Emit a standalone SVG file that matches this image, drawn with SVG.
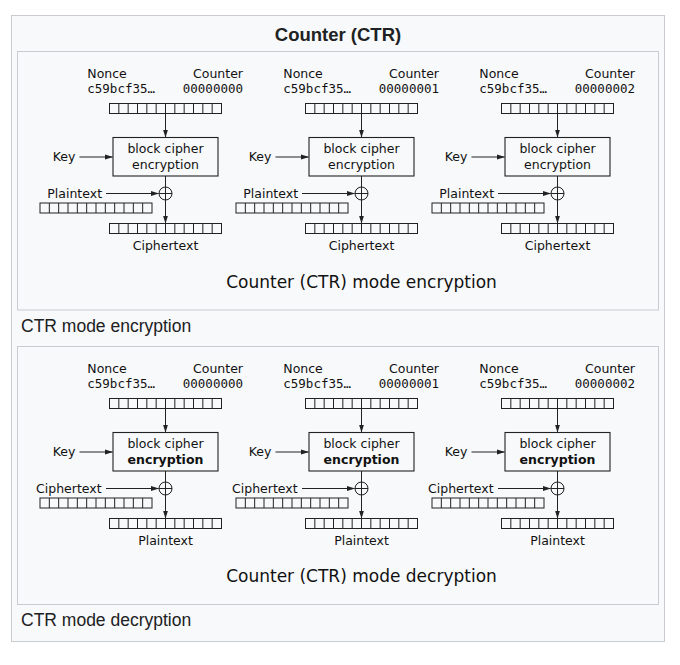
<svg xmlns="http://www.w3.org/2000/svg" xmlns:xlink="http://www.w3.org/1999/xlink" width="680" height="665" viewBox="0 0 680 665">
<style>
.frame{fill:#f8f9fa;stroke:#c8ccd1;stroke-width:1}
.cap{font-family:"Liberation Sans",Arial,sans-serif;font-size:17.5px;fill:#202122}
.title{font-family:"Liberation Sans",Arial,sans-serif;font-size:18.5px;font-weight:bold;fill:#202122}
.t{font-family:"DejaVu Sans",sans-serif;font-size:12.5px;fill:#111}
.m{font-family:"DejaVu Sans Mono",monospace;font-size:12.5px;fill:#111}
.big{font-family:"DejaVu Sans",sans-serif;font-size:17px;fill:#111}
.mid{text-anchor:middle}
.end{text-anchor:end}
.b{font-weight:bold}
.ln{fill:none;stroke:#222;stroke-width:1}
.box{fill:none;stroke:#222;stroke-width:1.1}
</style>
<defs>
<marker id="ah" markerWidth="8" markerHeight="6" refX="7.5" refY="3" orient="auto" markerUnits="userSpaceOnUse"><path d="M0,0.5 L8,3 L0,5.5 z" fill="#222"/></marker>
<g id="reg" class="ln"><rect x="0" y="0" width="112" height="10"/><path d="M9.33 0v10M18.67 0v10M28 0v10M37.33 0v10M46.67 0v10M56 0v10M65.33 0v10M74.67 0v10M84 0v10M93.33 0v10M102.67 0v10"/></g>
<g id="xor" class="ln"><circle cx="165.5" cy="193.5" r="6.5"/><path d="M159 193.5H172M165.5 187V200"/></g>
<g id="arrows" class="ln"><path d="M165.5 113.5V137" marker-end="url(#ah)"/><path d="M79.5 157H112.5" marker-end="url(#ah)"/><path d="M165.5 176V187"/><path d="M106 193.5H158.5" marker-end="url(#ah)"/><path d="M165.5 200V223" marker-end="url(#ah)"/></g>
</defs>

<rect class="frame" x="11.5" y="15.5" width="653" height="626"/>
<text class="title mid" x="338" y="41">Counter (CTR)</text>

<rect class="frame" x="17.5" y="51.5" width="641" height="258.5"/>
<rect class="frame" x="17.5" y="346.5" width="641" height="258"/>
<text class="cap" x="21" y="332">CTR mode encryption</text>
<text class="cap" x="21" y="626">CTR mode decryption</text>

<g id="connectors">
<use xlink:href="#arrows" href="#arrows"/>
<use xlink:href="#arrows" href="#arrows" x="196"/>
<use xlink:href="#arrows" href="#arrows" x="392"/>
<use xlink:href="#arrows" href="#arrows" y="295"/>
<use xlink:href="#arrows" href="#arrows" x="196" y="295"/>
<use xlink:href="#arrows" href="#arrows" x="392" y="295"/>
</g>

<g id="enc1" transform="translate(0,0)">
<g id="enc1-counter"><text class="t" x="87.3" y="78">Nonce</text><text class="t end" x="243" y="78">Counter</text><text class="m" x="87.3" y="93.3">c59bcf35…</text><text class="m end" x="243" y="93.3">00000000</text><use href="#reg" xlink:href="#reg" x="109.5" y="103.5"/></g>
<g id="enc1-key"><text class="t" x="52.7" y="161">Key</text></g>
<g id="enc1-cipher"><rect class="box" x="113" y="137.5" width="105" height="38.5"/><text class="t mid" x="165.5" y="152.7">block cipher</text><text class="t mid" x="165.5" y="168.5">encryption</text></g>
<g id="enc1-xor"><use href="#xor" xlink:href="#xor"/></g>
<g id="enc1-in"><text class="t" x="47.3" y="197.5">Plaintext</text><use href="#reg" xlink:href="#reg" x="40" y="203"/></g>
<g id="enc1-out"><use href="#reg" xlink:href="#reg" x="109.5" y="223.5"/><text class="t mid" x="165.5" y="249.5">Ciphertext</text></g>
</g>

<g id="enc2" transform="translate(196,0)">
<g id="enc2-counter"><text class="t" x="87.3" y="78">Nonce</text><text class="t end" x="243" y="78">Counter</text><text class="m" x="87.3" y="93.3">c59bcf35…</text><text class="m end" x="243" y="93.3">00000001</text><use href="#reg" xlink:href="#reg" x="109.5" y="103.5"/></g>
<g id="enc2-key"><text class="t" x="52.7" y="161">Key</text></g>
<g id="enc2-cipher"><rect class="box" x="113" y="137.5" width="105" height="38.5"/><text class="t mid" x="165.5" y="152.7">block cipher</text><text class="t mid" x="165.5" y="168.5">encryption</text></g>
<g id="enc2-xor"><use href="#xor" xlink:href="#xor"/></g>
<g id="enc2-in"><text class="t" x="47.3" y="197.5">Plaintext</text><use href="#reg" xlink:href="#reg" x="40" y="203"/></g>
<g id="enc2-out"><use href="#reg" xlink:href="#reg" x="109.5" y="223.5"/><text class="t mid" x="165.5" y="249.5">Ciphertext</text></g>
</g>

<g id="enc3" transform="translate(392,0)">
<g id="enc3-counter"><text class="t" x="87.3" y="78">Nonce</text><text class="t end" x="243" y="78">Counter</text><text class="m" x="87.3" y="93.3">c59bcf35…</text><text class="m end" x="243" y="93.3">00000002</text><use href="#reg" xlink:href="#reg" x="109.5" y="103.5"/></g>
<g id="enc3-key"><text class="t" x="52.7" y="161">Key</text></g>
<g id="enc3-cipher"><rect class="box" x="113" y="137.5" width="105" height="38.5"/><text class="t mid" x="165.5" y="152.7">block cipher</text><text class="t mid" x="165.5" y="168.5">encryption</text></g>
<g id="enc3-xor"><use href="#xor" xlink:href="#xor"/></g>
<g id="enc3-in"><text class="t" x="47.3" y="197.5">Plaintext</text><use href="#reg" xlink:href="#reg" x="40" y="203"/></g>
<g id="enc3-out"><use href="#reg" xlink:href="#reg" x="109.5" y="223.5"/><text class="t mid" x="165.5" y="249.5">Ciphertext</text></g>
</g>

<text class="big mid" x="361.5" y="288">Counter (CTR) mode encryption</text>

<g id="dec1" transform="translate(0,295)">
<g id="dec1-counter"><text class="t" x="87.3" y="78">Nonce</text><text class="t end" x="243" y="78">Counter</text><text class="m" x="87.3" y="93.3">c59bcf35…</text><text class="m end" x="243" y="93.3">00000000</text><use href="#reg" xlink:href="#reg" x="109.5" y="103.5"/></g>
<g id="dec1-key"><text class="t" x="52.7" y="161">Key</text></g>
<g id="dec1-cipher"><rect class="box" x="113" y="137.5" width="105" height="38.5"/><text class="t mid" x="165.5" y="152.7">block cipher</text><text class="t mid b" x="165.5" y="168.5">encryption</text></g>
<g id="dec1-xor"><use href="#xor" xlink:href="#xor"/></g>
<g id="dec1-in"><text class="t" x="36" y="197.5">Ciphertext</text><use href="#reg" xlink:href="#reg" x="40" y="203"/></g>
<g id="dec1-out"><use href="#reg" xlink:href="#reg" x="109.5" y="223.5"/><text class="t mid" x="165.5" y="249.5">Plaintext</text></g>
</g>

<g id="dec2" transform="translate(196,295)">
<g id="dec2-counter"><text class="t" x="87.3" y="78">Nonce</text><text class="t end" x="243" y="78">Counter</text><text class="m" x="87.3" y="93.3">c59bcf35…</text><text class="m end" x="243" y="93.3">00000001</text><use href="#reg" xlink:href="#reg" x="109.5" y="103.5"/></g>
<g id="dec2-key"><text class="t" x="52.7" y="161">Key</text></g>
<g id="dec2-cipher"><rect class="box" x="113" y="137.5" width="105" height="38.5"/><text class="t mid" x="165.5" y="152.7">block cipher</text><text class="t mid b" x="165.5" y="168.5">encryption</text></g>
<g id="dec2-xor"><use href="#xor" xlink:href="#xor"/></g>
<g id="dec2-in"><text class="t" x="36" y="197.5">Ciphertext</text><use href="#reg" xlink:href="#reg" x="40" y="203"/></g>
<g id="dec2-out"><use href="#reg" xlink:href="#reg" x="109.5" y="223.5"/><text class="t mid" x="165.5" y="249.5">Plaintext</text></g>
</g>

<g id="dec3" transform="translate(392,295)">
<g id="dec3-counter"><text class="t" x="87.3" y="78">Nonce</text><text class="t end" x="243" y="78">Counter</text><text class="m" x="87.3" y="93.3">c59bcf35…</text><text class="m end" x="243" y="93.3">00000002</text><use href="#reg" xlink:href="#reg" x="109.5" y="103.5"/></g>
<g id="dec3-key"><text class="t" x="52.7" y="161">Key</text></g>
<g id="dec3-cipher"><rect class="box" x="113" y="137.5" width="105" height="38.5"/><text class="t mid" x="165.5" y="152.7">block cipher</text><text class="t mid b" x="165.5" y="168.5">encryption</text></g>
<g id="dec3-xor"><use href="#xor" xlink:href="#xor"/></g>
<g id="dec3-in"><text class="t" x="36" y="197.5">Ciphertext</text><use href="#reg" xlink:href="#reg" x="40" y="203"/></g>
<g id="dec3-out"><use href="#reg" xlink:href="#reg" x="109.5" y="223.5"/><text class="t mid" x="165.5" y="249.5">Plaintext</text></g>
</g>

<text class="big mid" x="361.5" y="582">Counter (CTR) mode decryption</text>
</svg>
